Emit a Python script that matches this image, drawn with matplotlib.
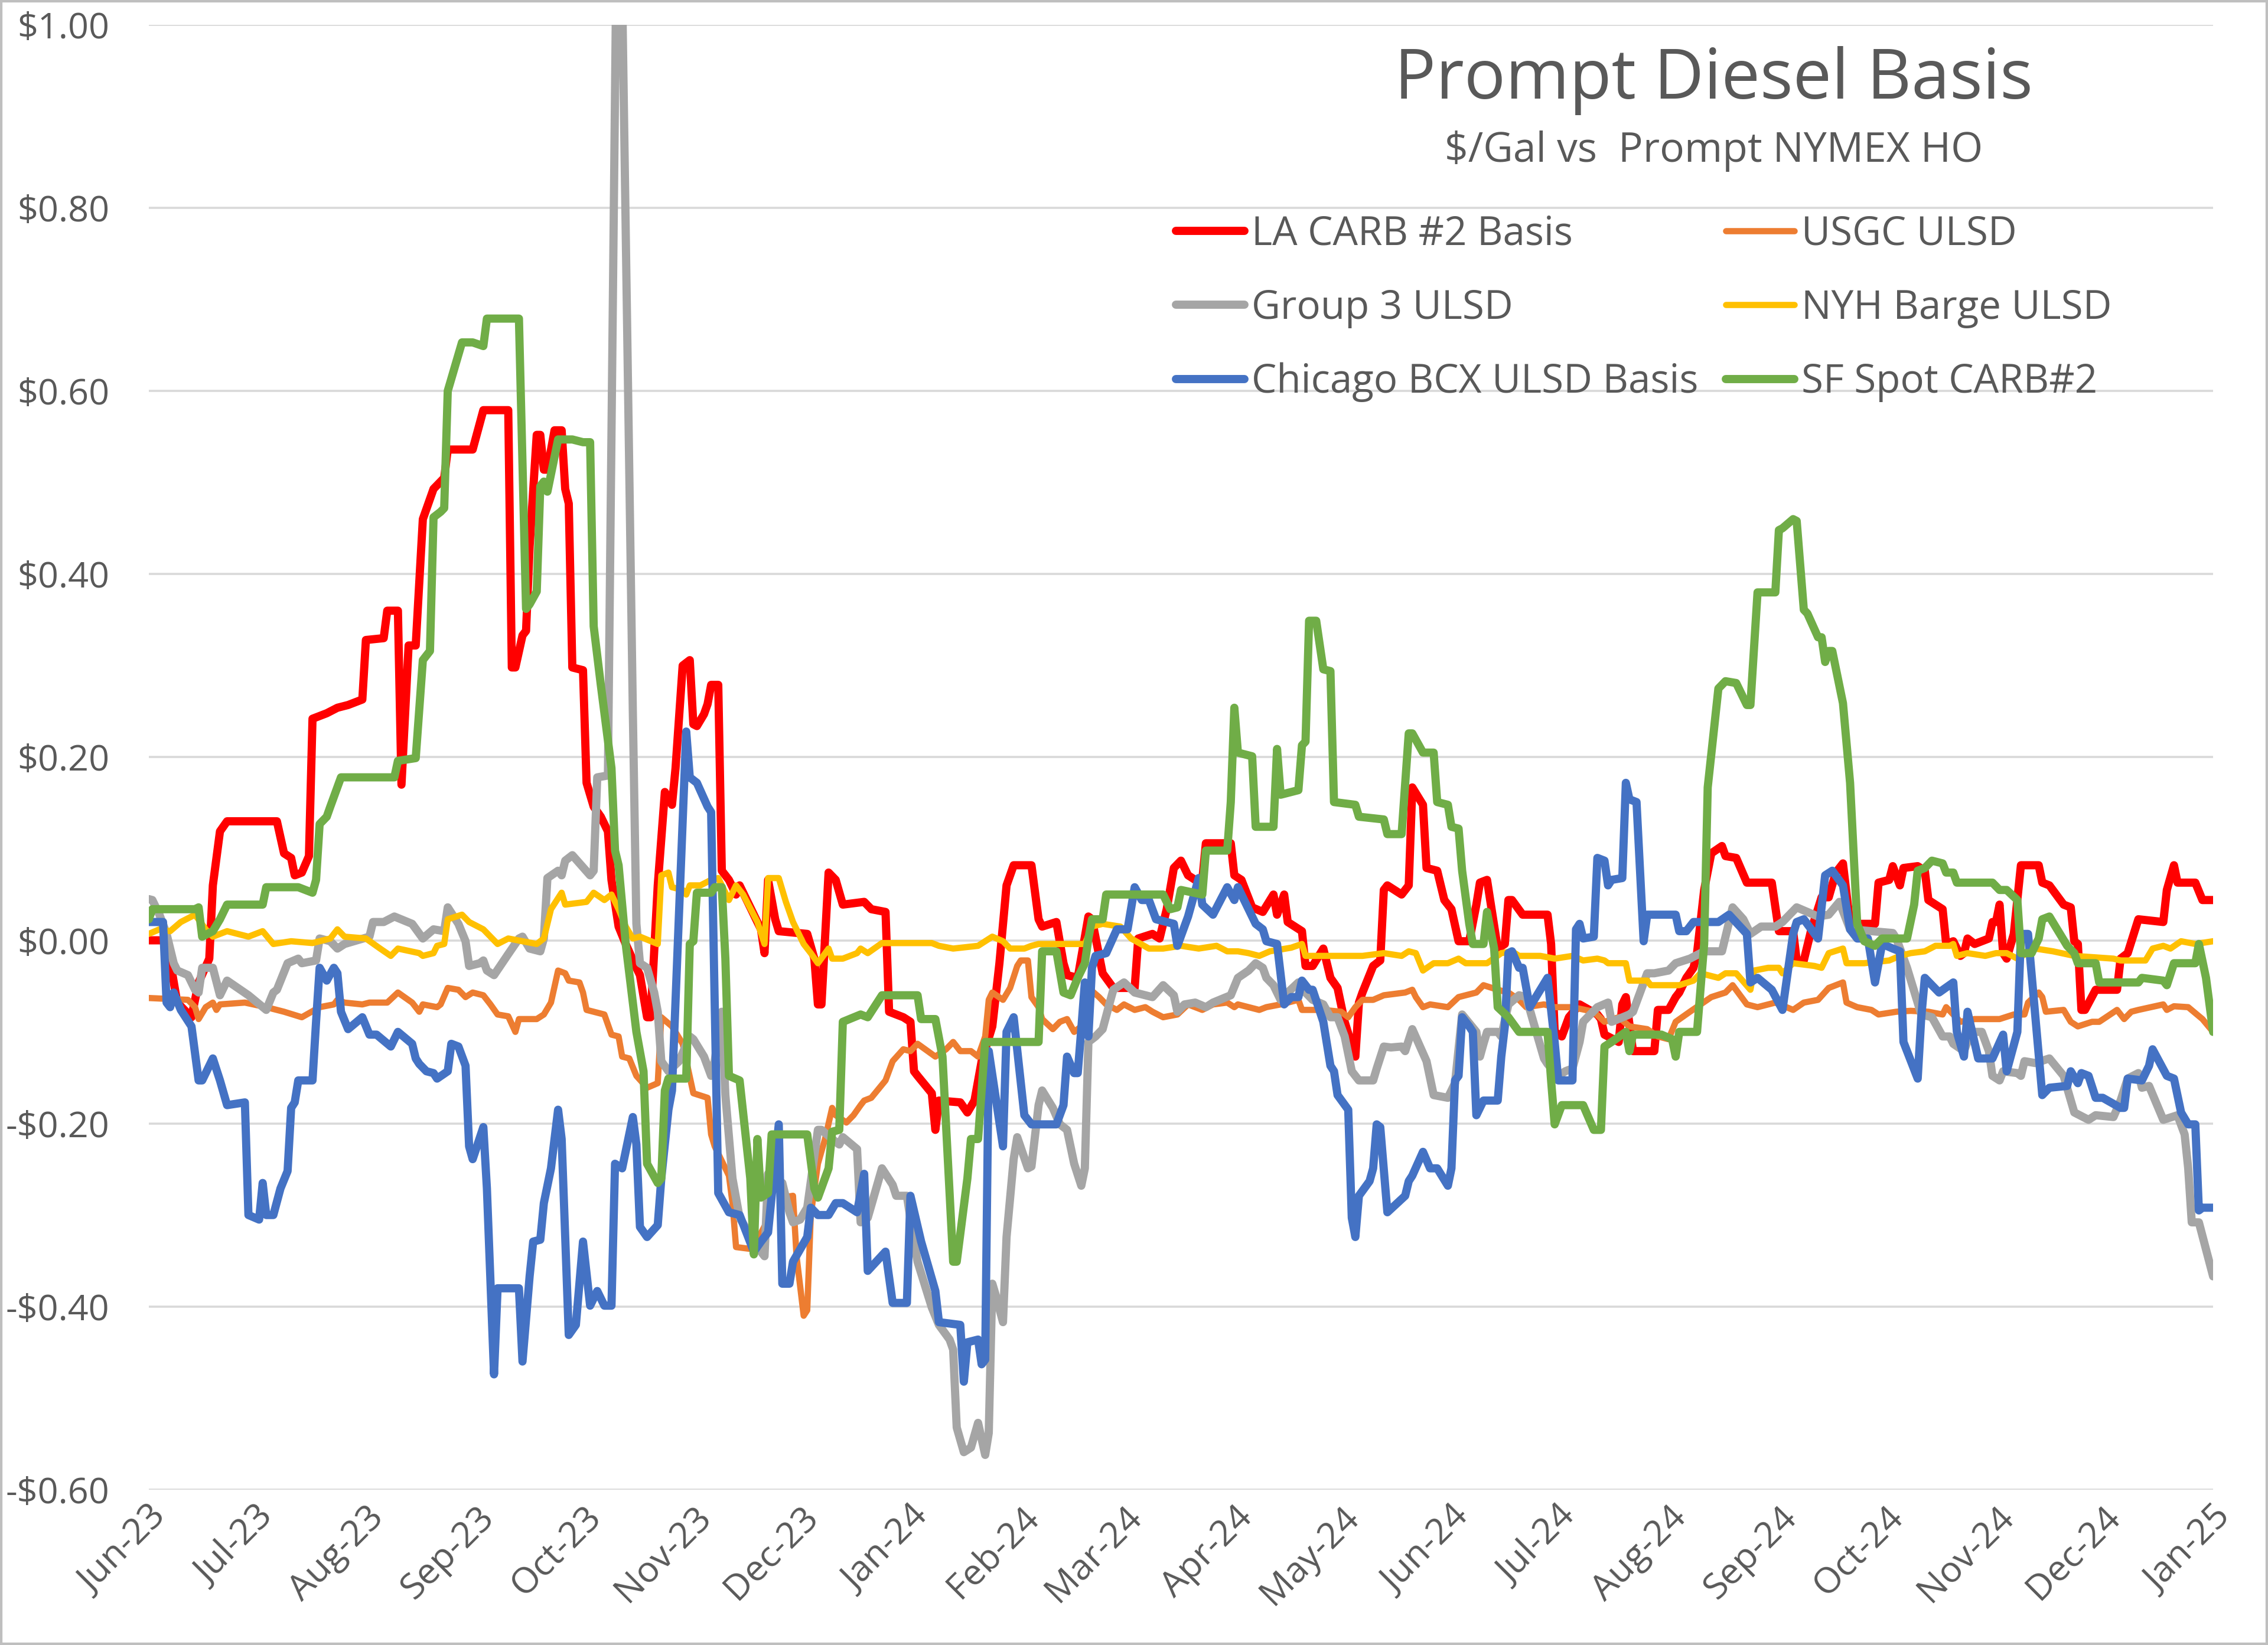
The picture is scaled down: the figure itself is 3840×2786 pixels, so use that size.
import pandas as pd
import matplotlib
matplotlib.use("Agg")
import matplotlib.pyplot as plt
import matplotlib.dates as mdates
from matplotlib.ticker import FuncFormatter
from matplotlib.patches import Rectangle

plt.rcParams['font.family'] = ['Open Sans', 'DejaVu Sans']
plt.rcParams['text.parse_math'] = False

# $/Gal vs prompt NYMEX HO
la_carb = [
    ("2023-06-01", 0.000), ("2023-06-06", 0.000), ("2023-06-09", -0.068), ("2023-06-13", -0.084),
    ("2023-06-15", -0.046), ("2023-06-18", -0.020), ("2023-06-19", 0.060), ("2023-06-21", 0.119),
    ("2023-06-23", 0.130), ("2023-07-07", 0.130), ("2023-07-09", 0.095), ("2023-07-11", 0.090),
    ("2023-07-12", 0.071), ("2023-07-14", 0.074), ("2023-07-16", 0.092), ("2023-07-17", 0.242),
    ("2023-07-21", 0.248), ("2023-07-24", 0.254), ("2023-07-27", 0.257), ("2023-07-31", 0.263),
    ("2023-08-01", 0.328), ("2023-08-06", 0.330), ("2023-08-07", 0.360), ("2023-08-10", 0.360),
    ("2023-08-11", 0.170), ("2023-08-13", 0.322), ("2023-08-15", 0.322), ("2023-08-17", 0.460),
    ("2023-08-20", 0.493), ("2023-08-23", 0.505), ("2023-08-24", 0.536), ("2023-08-31", 0.536),
    ("2023-09-03", 0.579), ("2023-09-10", 0.579), ("2023-09-11", 0.298), ("2023-09-12", 0.298),
    ("2023-09-14", 0.333), ("2023-09-15", 0.338), ("2023-09-16", 0.430), ("2023-09-18", 0.552),
    ("2023-09-19", 0.552), ("2023-09-20", 0.514), ("2023-09-21", 0.514), ("2023-09-23", 0.557),
    ("2023-09-25", 0.557), ("2023-09-26", 0.493), ("2023-09-27", 0.477), ("2023-09-28", 0.298),
    ("2023-10-01", 0.295), ("2023-10-02", 0.172), ("2023-10-04", 0.146), ("2023-10-06", 0.135),
    ("2023-10-08", 0.119), ("2023-10-09", 0.066), ("2023-10-11", 0.015), ("2023-10-13", -0.004),
    ("2023-10-16", -0.030), ("2023-10-17", -0.038), ("2023-10-19", -0.084), ("2023-10-20", -0.084),
    ("2023-10-22", 0.060), ("2023-10-24", 0.162), ("2023-10-26", 0.148), ("2023-10-27", 0.188),
    ("2023-10-29", 0.300), ("2023-10-31", 0.306), ("2023-11-01", 0.236), ("2023-11-02", 0.234),
    ("2023-11-04", 0.247), ("2023-11-05", 0.258), ("2023-11-06", 0.279), ("2023-11-08", 0.279),
    ("2023-11-09", 0.076), ("2023-11-11", 0.066), ("2023-11-13", 0.050), ("2023-11-14", 0.060),
    ("2023-11-20", 0.012), ("2023-11-21", -0.014), ("2023-11-22", 0.066), ("2023-11-24", 0.023),
    ("2023-11-25", 0.010), ("2023-12-03", 0.007), ("2023-12-05", -0.020), ("2023-12-06", -0.070),
    ("2023-12-07", -0.070), ("2023-12-09", 0.074), ("2023-12-11", 0.066), ("2023-12-13", 0.039),
    ("2023-12-19", 0.042), ("2023-12-21", 0.034), ("2023-12-25", 0.031), ("2023-12-26", -0.078),
    ("2023-12-30", -0.084), ("2024-01-01", -0.089), ("2024-01-02", -0.143), ("2024-01-03", -0.148),
    ("2024-01-07", -0.167), ("2024-01-08", -0.207), ("2024-01-09", -0.175), ("2024-01-15", -0.177),
    ("2024-01-17", -0.188), ("2024-01-19", -0.175), ("2024-01-21", -0.132), ("2024-01-24", -0.094),
    ("2024-01-26", -0.025), ("2024-01-28", 0.060), ("2024-01-30", 0.082), ("2024-02-04", 0.082),
    ("2024-02-06", 0.023), ("2024-02-07", 0.015), ("2024-02-11", 0.020), ("2024-02-13", -0.025),
    ("2024-02-14", -0.038), ("2024-02-17", -0.041), ("2024-02-20", 0.026), ("2024-02-21", 0.023),
    ("2024-02-24", -0.036), ("2024-02-27", -0.052), ("2024-03-04", -0.052), ("2024-03-05", 0.002),
    ("2024-03-09", 0.007), ("2024-03-11", 0.002), ("2024-03-13", 0.034), ("2024-03-15", 0.079),
    ("2024-03-17", 0.087), ("2024-03-19", 0.071), ("2024-03-21", 0.066), ("2024-03-23", 0.066),
    ("2024-03-24", 0.106), ("2024-03-31", 0.106), ("2024-04-01", 0.071), ("2024-04-03", 0.066),
    ("2024-04-06", 0.036), ("2024-04-09", 0.031), ("2024-04-12", 0.050), ("2024-04-13", 0.028),
    ("2024-04-15", 0.050), ("2024-04-16", 0.020), ("2024-04-20", 0.010), ("2024-04-21", -0.028),
    ("2024-04-23", -0.028), ("2024-04-26", -0.009), ("2024-04-28", -0.041), ("2024-04-30", -0.052),
    ("2024-05-02", -0.089), ("2024-05-05", -0.127), ("2024-05-06", -0.068), ("2024-05-07", -0.057),
    ("2024-05-10", -0.028), ("2024-05-12", -0.022), ("2024-05-13", 0.055), ("2024-05-14", 0.060),
    ("2024-05-18", 0.050), ("2024-05-20", 0.060), ("2024-05-21", 0.167), ("2024-05-24", 0.148),
    ("2024-05-25", 0.079), ("2024-05-28", 0.076), ("2024-05-30", 0.044), ("2024-06-01", 0.034),
    ("2024-06-03", -0.001), ("2024-06-06", -0.001), ("2024-06-08", 0.039), ("2024-06-09", 0.063),
    ("2024-06-11", 0.066), ("2024-06-14", -0.009), ("2024-06-16", -0.004), ("2024-06-17", 0.044),
    ("2024-06-18", 0.044), ("2024-06-21", 0.028), ("2024-06-28", 0.028), ("2024-06-29", -0.004),
    ("2024-06-30", -0.100), ("2024-07-02", -0.105), ("2024-07-04", -0.084), ("2024-07-07", -0.070),
    ("2024-07-12", -0.081), ("2024-07-13", -0.086), ("2024-07-14", -0.103), ("2024-07-18", -0.111),
    ("2024-07-19", -0.070), ("2024-07-20", -0.062), ("2024-07-22", -0.121), ("2024-07-28", -0.121),
    ("2024-07-29", -0.076), ("2024-08-01", -0.076), ("2024-08-03", -0.062), ("2024-08-04", -0.057),
    ("2024-08-06", -0.041), ("2024-08-08", -0.030), ("2024-08-09", -0.014), ("2024-08-11", 0.055),
    ("2024-08-13", 0.095), ("2024-08-16", 0.103), ("2024-08-17", 0.092), ("2024-08-20", 0.090),
    ("2024-08-23", 0.063), ("2024-08-30", 0.063), ("2024-09-01", 0.010), ("2024-09-05", 0.010),
    ("2024-09-06", -0.022), ("2024-09-08", -0.022), ("2024-09-10", 0.010), ("2024-09-13", 0.047),
    ("2024-09-15", 0.047), ("2024-09-17", 0.074), ("2024-09-19", 0.084), ("2024-09-21", 0.018),
    ("2024-09-28", 0.018), ("2024-09-29", 0.063), ("2024-10-02", 0.066), ("2024-10-03", 0.081),
    ("2024-10-05", 0.060), ("2024-10-06", 0.079), ("2024-10-10", 0.081), ("2024-10-12", 0.076),
    ("2024-10-13", 0.044), ("2024-10-17", 0.034), ("2024-10-18", -0.004), ("2024-10-20", -0.001),
    ("2024-10-22", -0.017), ("2024-10-23", -0.014), ("2024-10-24", 0.002), ("2024-10-26", -0.004),
    ("2024-10-30", 0.002), ("2024-10-31", 0.020), ("2024-11-01", 0.020), ("2024-11-02", 0.039),
    ("2024-11-03", -0.014), ("2024-11-04", -0.020), ("2024-11-06", 0.007), ("2024-11-08", 0.082),
    ("2024-11-13", 0.082), ("2024-11-14", 0.063), ("2024-11-16", 0.060), ("2024-11-20", 0.039),
    ("2024-11-22", 0.036), ("2024-11-23", -0.001), ("2024-11-24", -0.004), ("2024-11-25", -0.076),
    ("2024-11-26", -0.076), ("2024-11-29", -0.054), ("2024-12-05", -0.054), ("2024-12-06", -0.020),
    ("2024-12-08", -0.014), ("2024-12-11", 0.023), ("2024-12-18", 0.020), ("2024-12-19", 0.055),
    ("2024-12-21", 0.082), ("2024-12-22", 0.063), ("2024-12-27", 0.063), ("2024-12-29", 0.044),
    ("2025-01-01", 0.044),
]

usgc = [
    ("2023-06-01", -0.063), ("2023-06-12", -0.065), ("2023-06-14", -0.073), ("2023-06-15", -0.086),
    ("2023-06-17", -0.073), ("2023-06-19", -0.068), ("2023-06-20", -0.076), ("2023-06-21", -0.070),
    ("2023-06-28", -0.068), ("2023-07-04", -0.073), ("2023-07-09", -0.078), ("2023-07-14", -0.084),
    ("2023-07-19", -0.073), ("2023-07-23", -0.070), ("2023-07-24", -0.065), ("2023-07-26", -0.068),
    ("2023-07-31", -0.070), ("2023-08-02", -0.068), ("2023-08-07", -0.068), ("2023-08-10", -0.057),
    ("2023-08-14", -0.068), ("2023-08-16", -0.078), ("2023-08-17", -0.070), ("2023-08-21", -0.073),
    ("2023-08-22", -0.070), ("2023-08-24", -0.052), ("2023-08-27", -0.054), ("2023-08-29", -0.062),
    ("2023-08-31", -0.057), ("2023-09-03", -0.060), ("2023-09-05", -0.070), ("2023-09-07", -0.081),
    ("2023-09-10", -0.083), ("2023-09-12", -0.100), ("2023-09-13", -0.086), ("2023-09-18", -0.086),
    ("2023-09-20", -0.081), ("2023-09-22", -0.068), ("2023-09-24", -0.033), ("2023-09-26", -0.036),
    ("2023-09-27", -0.044), ("2023-09-30", -0.046), ("2023-10-01", -0.057), ("2023-10-02", -0.076),
    ("2023-10-04", -0.078), ("2023-10-07", -0.081), ("2023-10-09", -0.103), ("2023-10-11", -0.105),
    ("2023-10-12", -0.127), ("2023-10-14", -0.129), ("2023-10-16", -0.148), ("2023-10-19", -0.161),
    ("2023-10-22", -0.156), ("2023-10-23", -0.084), ("2023-10-26", -0.094), ("2023-10-29", -0.113),
    ("2023-11-01", -0.167), ("2023-11-05", -0.172), ("2023-11-06", -0.212), ("2023-11-07", -0.225),
    ("2023-11-10", -0.249), ("2023-11-11", -0.257), ("2023-11-12", -0.287), ("2023-11-13", -0.335),
    ("2023-11-17", -0.337), ("2023-11-19", -0.327), ("2023-11-22", -0.305), ("2023-11-24", -0.255),
    ("2023-11-26", -0.281), ("2023-11-29", -0.279), ("2023-11-30", -0.345), ("2023-12-02", -0.410),
    ("2023-12-03", -0.404), ("2023-12-04", -0.300), ("2023-12-06", -0.244), ("2023-12-08", -0.217),
    ("2023-12-10", -0.183), ("2023-12-11", -0.191), ("2023-12-14", -0.199), ("2023-12-16", -0.191),
    ("2023-12-18", -0.180), ("2023-12-19", -0.175), ("2023-12-21", -0.172), ("2023-12-25", -0.153),
    ("2023-12-27", -0.132), ("2023-12-30", -0.119), ("2024-01-01", -0.121), ("2024-01-03", -0.113),
    ("2024-01-08", -0.127), ("2024-01-11", -0.119), ("2024-01-13", -0.111), ("2024-01-15", -0.121),
    ("2024-01-18", -0.121), ("2024-01-20", -0.127), ("2024-01-22", -0.105), ("2024-01-23", -0.065),
    ("2024-01-24", -0.057), ("2024-01-27", -0.065), ("2024-01-29", -0.052), ("2024-01-31", -0.028),
    ("2024-02-01", -0.022), ("2024-02-03", -0.022), ("2024-02-04", -0.062), ("2024-02-06", -0.073),
    ("2024-02-07", -0.086), ("2024-02-10", -0.097), ("2024-02-12", -0.089), ("2024-02-14", -0.086),
    ("2024-02-16", -0.100), ("2024-02-18", -0.094), ("2024-02-20", -0.052), ("2024-02-23", -0.062),
    ("2024-02-25", -0.070), ("2024-02-28", -0.076), ("2024-03-01", -0.070), ("2024-03-04", -0.076),
    ("2024-03-07", -0.073), ("2024-03-09", -0.078), ("2024-03-12", -0.084), ("2024-03-16", -0.081),
    ("2024-03-19", -0.070), ("2024-03-21", -0.073), ("2024-03-23", -0.076), ("2024-03-26", -0.070),
    ("2024-03-30", -0.068), ("2024-04-01", -0.073), ("2024-04-02", -0.070), ("2024-04-08", -0.076),
    ("2024-04-10", -0.073), ("2024-04-14", -0.070), ("2024-04-19", -0.065), ("2024-04-20", -0.076),
    ("2024-04-26", -0.076), ("2024-05-01", -0.078), ("2024-05-03", -0.084), ("2024-05-05", -0.073),
    ("2024-05-07", -0.065), ("2024-05-10", -0.065), ("2024-05-13", -0.060), ("2024-05-19", -0.057),
    ("2024-05-21", -0.054), ("2024-05-22", -0.062), ("2024-05-24", -0.073), ("2024-05-26", -0.070),
    ("2024-05-31", -0.073), ("2024-06-03", -0.062), ("2024-06-08", -0.057), ("2024-06-10", -0.049),
    ("2024-06-14", -0.054), ("2024-06-17", -0.057), ("2024-06-20", -0.065), ("2024-06-22", -0.073),
    ("2024-06-27", -0.070), ("2024-06-30", -0.073), ("2024-07-05", -0.073), ("2024-07-11", -0.078),
    ("2024-07-14", -0.089), ("2024-07-18", -0.084), ("2024-07-21", -0.094), ("2024-07-26", -0.097),
    ("2024-07-29", -0.105), ("2024-08-01", -0.108), ("2024-08-03", -0.089), ("2024-08-07", -0.078),
    ("2024-08-10", -0.070), ("2024-08-13", -0.062), ("2024-08-17", -0.057), ("2024-08-19", -0.049),
    ("2024-08-23", -0.070), ("2024-08-26", -0.073), ("2024-08-31", -0.068), ("2024-09-05", -0.076),
    ("2024-09-08", -0.068), ("2024-09-12", -0.065), ("2024-09-15", -0.052), ("2024-09-19", -0.046),
    ("2024-09-20", -0.068), ("2024-09-23", -0.073), ("2024-09-27", -0.076), ("2024-09-29", -0.081),
    ("2024-10-04", -0.078), ("2024-10-08", -0.077), ("2024-10-13", -0.078), ("2024-10-17", -0.081),
    ("2024-10-18", -0.073), ("2024-10-22", -0.089), ("2024-10-26", -0.086), ("2024-11-02", -0.086),
    ("2024-11-06", -0.081), ("2024-11-09", -0.081), ("2024-11-10", -0.068), ("2024-11-13", -0.057),
    ("2024-11-14", -0.062), ("2024-11-15", -0.078), ("2024-11-20", -0.076), ("2024-11-22", -0.089),
    ("2024-11-24", -0.094), ("2024-11-28", -0.089), ("2024-11-30", -0.089), ("2024-12-05", -0.076),
    ("2024-12-07", -0.086), ("2024-12-09", -0.078), ("2024-12-11", -0.076), ("2024-12-18", -0.070),
    ("2024-12-19", -0.076), ("2024-12-21", -0.072), ("2024-12-25", -0.073), ("2024-12-29", -0.086),
    ("2025-01-01", -0.100),
]

group3 = [
    ("2023-06-01", 0.045), ("2023-06-02", 0.044), ("2023-06-04", 0.028), ("2023-06-06", 0.007),
    ("2023-06-08", -0.025), ("2023-06-09", -0.033), ("2023-06-12", -0.038), ("2023-06-14", -0.054),
    ("2023-06-15", -0.057), ("2023-06-16", -0.030), ("2023-06-19", -0.030), ("2023-06-21", -0.060),
    ("2023-06-23", -0.044), ("2023-06-29", -0.060), ("2023-07-04", -0.076), ("2023-07-06", -0.057),
    ("2023-07-07", -0.054), ("2023-07-10", -0.025), ("2023-07-13", -0.020), ("2023-07-14", -0.025),
    ("2023-07-18", -0.022), ("2023-07-19", 0.002), ("2023-07-22", -0.001), ("2023-07-24", -0.009),
    ("2023-07-26", -0.004), ("2023-08-02", 0.004), ("2023-08-03", 0.020), ("2023-08-06", 0.020),
    ("2023-08-09", 0.026), ("2023-08-14", 0.018), ("2023-08-17", 0.002), ("2023-08-20", 0.012),
    ("2023-08-23", 0.010), ("2023-08-24", 0.036), ("2023-08-27", 0.018), ("2023-08-29", -0.001),
    ("2023-08-30", -0.028), ("2023-09-02", -0.025), ("2023-09-03", -0.022), ("2023-09-04", -0.033),
    ("2023-09-06", -0.038), ("2023-09-10", -0.015), ("2023-09-13", 0.002), ("2023-09-14", 0.004),
    ("2023-09-16", -0.009), ("2023-09-19", -0.012), ("2023-09-20", 0.002), ("2023-09-21", 0.068),
    ("2023-09-24", 0.076), ("2023-09-25", 0.071), ("2023-09-26", 0.087), ("2023-09-28", 0.093),
    ("2023-10-03", 0.071), ("2023-10-04", 0.076), ("2023-10-05", 0.178), ("2023-10-08", 0.180),
    ("2023-10-11", 1.300), ("2023-10-15", 0.250), ("2023-10-16", 0.018),
    ("2023-10-17", -0.025), ("2023-10-19", -0.030), ("2023-10-21", -0.057), ("2023-10-22", -0.078),
    ("2023-10-23", -0.132), ("2023-10-25", -0.143), ("2023-10-28", -0.132), ("2023-10-31", -0.105),
    ("2023-11-01", -0.108), ("2023-11-04", -0.127), ("2023-11-06", -0.148), ("2023-11-07", -0.132),
    ("2023-11-09", -0.078), ("2023-11-10", -0.169), ("2023-11-12", -0.260), ("2023-11-14", -0.303),
    ("2023-11-19", -0.335), ("2023-11-21", -0.345), ("2023-11-22", -0.255), ("2023-11-26", -0.265),
    ("2023-11-28", -0.297), ("2023-11-29", -0.308), ("2023-12-01", -0.305), ("2023-12-03", -0.292),
    ("2023-12-06", -0.207), ("2023-12-07", -0.207), ("2023-12-10", -0.217), ("2023-12-12", -0.223),
    ("2023-12-13", -0.215), ("2023-12-17", -0.228), ("2023-12-18", -0.308), ("2023-12-20", -0.303),
    ("2023-12-24", -0.249), ("2023-12-27", -0.267), ("2023-12-28", -0.279), ("2023-12-31", -0.279),
    ("2024-01-02", -0.329), ("2024-01-03", -0.351), ("2024-01-07", -0.401), ("2024-01-09", -0.420),
    ("2024-01-12", -0.436), ("2024-01-13", -0.447), ("2024-01-14", -0.532), ("2024-01-16", -0.559),
    ("2024-01-18", -0.554), ("2024-01-20", -0.527), ("2024-01-22", -0.562), ("2024-01-23", -0.538),
    ("2024-01-24", -0.375), ("2024-01-25", -0.388), ("2024-01-27", -0.417), ("2024-01-28", -0.324),
    ("2024-01-30", -0.239), ("2024-01-31", -0.215), ("2024-02-03", -0.249), ("2024-02-04", -0.247),
    ("2024-02-06", -0.180), ("2024-02-07", -0.164), ("2024-02-10", -0.183), ("2024-02-12", -0.201),
    ("2024-02-14", -0.207), ("2024-02-16", -0.244), ("2024-02-18", -0.268), ("2024-02-19", -0.249),
    ("2024-02-20", -0.111), ("2024-02-22", -0.105), ("2024-02-24", -0.097), ("2024-02-26", -0.068),
    ("2024-02-27", -0.054), ("2024-03-01", -0.046), ("2024-03-04", -0.057), ("2024-03-09", -0.062),
    ("2024-03-12", -0.049), ("2024-03-15", -0.060), ("2024-03-16", -0.078), ("2024-03-18", -0.070),
    ("2024-03-21", -0.068), ("2024-03-24", -0.073), ("2024-03-26", -0.068), ("2024-03-31", -0.060),
    ("2024-04-02", -0.041), ("2024-04-05", -0.033), ("2024-04-07", -0.025), ("2024-04-09", -0.030),
    ("2024-04-10", -0.041), ("2024-04-12", -0.049), ("2024-04-14", -0.065), ("2024-04-16", -0.057),
    ("2024-04-19", -0.046), ("2024-04-21", -0.057), ("2024-04-23", -0.065), ("2024-04-26", -0.070),
    ("2024-04-28", -0.084), ("2024-04-30", -0.084), ("2024-05-02", -0.105), ("2024-05-04", -0.143),
    ("2024-05-06", -0.153), ("2024-05-10", -0.153), ("2024-05-11", -0.140), ("2024-05-13", -0.116),
    ("2024-05-15", -0.117), ("2024-05-18", -0.116), ("2024-05-19", -0.121), ("2024-05-21", -0.097),
    ("2024-05-25", -0.132), ("2024-05-27", -0.169), ("2024-05-31", -0.172), ("2024-06-02", -0.156),
    ("2024-06-04", -0.081), ("2024-06-08", -0.100), ("2024-06-09", -0.127), ("2024-06-10", -0.113),
    ("2024-06-11", -0.100), ("2024-06-14", -0.100), ("2024-06-15", -0.105), ("2024-06-17", -0.070),
    ("2024-06-20", -0.060), ("2024-06-22", -0.062), ("2024-06-24", -0.089), ("2024-06-27", -0.129),
    ("2024-06-28", -0.135), ("2024-07-01", -0.148), ("2024-07-03", -0.143), ("2024-07-05", -0.140),
    ("2024-07-07", -0.111), ("2024-07-08", -0.089), ("2024-07-12", -0.073), ("2024-07-15", -0.068),
    ("2024-07-16", -0.089), ("2024-07-21", -0.081), ("2024-07-22", -0.078), ("2024-07-26", -0.036),
    ("2024-07-28", -0.036), ("2024-08-01", -0.033), ("2024-08-03", -0.025), ("2024-08-07", -0.020),
    ("2024-08-11", -0.012), ("2024-08-16", -0.012), ("2024-08-19", 0.036), ("2024-08-22", 0.023),
    ("2024-08-24", 0.007), ("2024-08-27", 0.015), ("2024-08-31", 0.015), ("2024-09-02", 0.020),
    ("2024-09-04", 0.028), ("2024-09-06", 0.036), ("2024-09-09", 0.031), ("2024-09-12", 0.026),
    ("2024-09-15", 0.028), ("2024-09-18", 0.042), ("2024-09-21", 0.012), ("2024-09-27", 0.010),
    ("2024-10-03", 0.008), ("2024-10-04", 0.002), ("2024-10-07", -0.030), ("2024-10-11", -0.081),
    ("2024-10-14", -0.084), ("2024-10-17", -0.105), ("2024-10-19", -0.105), ("2024-10-20", -0.113),
    ("2024-10-23", -0.121), ("2024-10-25", -0.100), ("2024-10-28", -0.100), ("2024-10-30", -0.121),
    ("2024-10-31", -0.148), ("2024-11-02", -0.153), ("2024-11-03", -0.143), ("2024-11-07", -0.145),
    ("2024-11-08", -0.148), ("2024-11-09", -0.132), ("2024-11-12", -0.134), ("2024-11-16", -0.129),
    ("2024-11-20", -0.148), ("2024-11-23", -0.188), ("2024-11-27", -0.196), ("2024-11-29", -0.191),
    ("2024-12-04", -0.193), ("2024-12-06", -0.175), ("2024-12-08", -0.151), ("2024-12-11", -0.145),
    ("2024-12-12", -0.161), ("2024-12-14", -0.159), ("2024-12-18", -0.196), ("2024-12-22", -0.191),
    ("2024-12-24", -0.212), ("2024-12-25", -0.249), ("2024-12-26", -0.308), ("2024-12-28", -0.308),
    ("2025-01-01", -0.367),
]

nyh = [
    ("2023-06-01", 0.007), ("2023-06-04", 0.012), ("2023-06-07", 0.010), ("2023-06-10", 0.020),
    ("2023-06-14", 0.028), ("2023-06-17", 0.012), ("2023-06-19", 0.004), ("2023-06-23", 0.010),
    ("2023-06-29", 0.004), ("2023-07-03", 0.010), ("2023-07-06", -0.004), ("2023-07-11", -0.001),
    ("2023-07-17", -0.003), ("2023-07-22", 0.002), ("2023-07-24", 0.012), ("2023-07-26", 0.004),
    ("2023-08-01", 0.002), ("2023-08-05", -0.009), ("2023-08-08", -0.017), ("2023-08-10", -0.009),
    ("2023-08-16", -0.014), ("2023-08-17", -0.017), ("2023-08-20", -0.014), ("2023-08-21", -0.006),
    ("2023-08-23", -0.004), ("2023-08-24", 0.023), ("2023-08-28", 0.028), ("2023-08-30", 0.020),
    ("2023-09-03", 0.012), ("2023-09-07", -0.004), ("2023-09-10", 0.002), ("2023-09-18", -0.004),
    ("2023-09-20", 0.002), ("2023-09-22", 0.034), ("2023-09-25", 0.052), ("2023-09-26", 0.039),
    ("2023-10-02", 0.042), ("2023-10-04", 0.052), ("2023-10-07", 0.044), ("2023-10-09", 0.050),
    ("2023-10-11", 0.034), ("2023-10-13", 0.015), ("2023-10-15", 0.002), ("2023-10-17", 0.004),
    ("2023-10-22", -0.004), ("2023-10-23", 0.071), ("2023-10-25", 0.074), ("2023-10-26", 0.058),
    ("2023-10-29", 0.055), ("2023-10-30", 0.050), ("2023-10-31", 0.060), ("2023-11-03", 0.060),
    ("2023-11-06", 0.066), ("2023-11-08", 0.068), ("2023-11-11", 0.044), ("2023-11-13", 0.060),
    ("2023-11-15", 0.050), ("2023-11-19", 0.020), ("2023-11-21", -0.004), ("2023-11-22", 0.068),
    ("2023-11-25", 0.068), ("2023-11-27", 0.042), ("2023-11-29", 0.020), ("2023-12-02", -0.004),
    ("2023-12-04", -0.014), ("2023-12-06", -0.025), ("2023-12-09", -0.009), ("2023-12-10", -0.020),
    ("2023-12-13", -0.020), ("2023-12-17", -0.014), ("2023-12-18", -0.009), ("2023-12-20", -0.014),
    ("2023-12-24", -0.003), ("2024-01-07", -0.003), ("2024-01-09", -0.006), ("2024-01-13", -0.009),
    ("2024-01-20", -0.006), ("2024-01-24", 0.004), ("2024-01-27", -0.001), ("2024-01-29", -0.009),
    ("2024-02-02", -0.009), ("2024-02-04", -0.006), ("2024-02-06", -0.004), ("2024-02-19", -0.004),
    ("2024-02-21", 0.015), ("2024-02-24", 0.018), ("2024-02-29", 0.015), ("2024-03-03", 0.002),
    ("2024-03-08", -0.009), ("2024-03-12", -0.009), ("2024-03-17", -0.006), ("2024-03-22", -0.009),
    ("2024-03-27", -0.006), ("2024-03-30", -0.012), ("2024-04-02", -0.012), ("2024-04-05", -0.014),
    ("2024-04-08", -0.017), ("2024-04-11", -0.012), ("2024-04-17", -0.008), ("2024-04-20", -0.004),
    ("2024-04-21", -0.017), ("2024-05-07", -0.017), ("2024-05-13", -0.014), ("2024-05-18", -0.017),
    ("2024-05-20", -0.012), ("2024-05-22", -0.014), ("2024-05-24", -0.033), ("2024-05-27", -0.025),
    ("2024-05-31", -0.025), ("2024-06-03", -0.020), ("2024-06-05", -0.025), ("2024-06-11", -0.025),
    ("2024-06-15", -0.014), ("2024-06-18", -0.012), ("2024-06-20", -0.017), ("2024-06-26", -0.017),
    ("2024-06-30", -0.020), ("2024-07-05", -0.017), ("2024-07-08", -0.022), ("2024-07-12", -0.020),
    ("2024-07-14", -0.022), ("2024-07-15", -0.025), ("2024-07-20", -0.025), ("2024-07-21", -0.044),
    ("2024-07-26", -0.044), ("2024-07-27", -0.049), ("2024-08-04", -0.049), ("2024-08-08", -0.044),
    ("2024-08-10", -0.036), ("2024-08-15", -0.041), ("2024-08-17", -0.036), ("2024-08-20", -0.036),
    ("2024-08-24", -0.054), ("2024-08-25", -0.033), ("2024-08-29", -0.030), ("2024-09-01", -0.030),
    ("2024-09-02", -0.036), ("2024-09-05", -0.025), ("2024-09-11", -0.028), ("2024-09-13", -0.030),
    ("2024-09-15", -0.014), ("2024-09-19", -0.009), ("2024-09-20", -0.025), ("2024-09-25", -0.025),
    ("2024-10-02", -0.022), ("2024-10-05", -0.017), ("2024-10-08", -0.014), ("2024-10-12", -0.012),
    ("2024-10-15", -0.006), ("2024-10-19", -0.006), ("2024-10-20", -0.004), ("2024-10-21", -0.017),
    ("2024-10-24", -0.014), ("2024-10-29", -0.017), ("2024-11-01", -0.014), ("2024-11-04", -0.014),
    ("2024-11-07", -0.020), ("2024-11-12", -0.009), ("2024-11-17", -0.012), ("2024-11-23", -0.017),
    ("2024-12-04", -0.020), ("2024-12-06", -0.022), ("2024-12-13", -0.022), ("2024-12-15", -0.009),
    ("2024-12-18", -0.006), ("2024-12-20", -0.009), ("2024-12-23", -0.001), ("2024-12-27", -0.004),
    ("2025-01-01", -0.001),
]

chicago = [
    ("2023-06-01", 0.020), ("2023-06-05", 0.020), ("2023-06-06", -0.068), ("2023-06-07", -0.073),
    ("2023-06-08", -0.057), ("2023-06-10", -0.076), ("2023-06-13", -0.094), ("2023-06-15", -0.153),
    ("2023-06-16", -0.153), ("2023-06-19", -0.129), ("2023-06-21", -0.153), ("2023-06-23", -0.180),
    ("2023-06-28", -0.177), ("2023-06-29", -0.300), ("2023-07-02", -0.305), ("2023-07-03", -0.265),
    ("2023-07-04", -0.300), ("2023-07-06", -0.300), ("2023-07-08", -0.271), ("2023-07-10", -0.252),
    ("2023-07-11", -0.183), ("2023-07-12", -0.177), ("2023-07-13", -0.153), ("2023-07-17", -0.153),
    ("2023-07-18", -0.089), ("2023-07-19", -0.030), ("2023-07-21", -0.044), ("2023-07-23", -0.030),
    ("2023-07-24", -0.036), ("2023-07-25", -0.078), ("2023-07-27", -0.097), ("2023-07-31", -0.084),
    ("2023-08-02", -0.103), ("2023-08-04", -0.103), ("2023-08-08", -0.116), ("2023-08-10", -0.100),
    ("2023-08-14", -0.113), ("2023-08-15", -0.129), ("2023-08-16", -0.135), ("2023-08-18", -0.143),
    ("2023-08-20", -0.145), ("2023-08-21", -0.151), ("2023-08-24", -0.143), ("2023-08-25", -0.113),
    ("2023-08-27", -0.116), ("2023-08-29", -0.137), ("2023-08-30", -0.225), ("2023-08-31", -0.239),
    ("2023-09-03", -0.204), ("2023-09-04", -0.271), ("2023-09-06", -0.474), ("2023-09-07", -0.380),
    ("2023-09-13", -0.380), ("2023-09-14", -0.460), ("2023-09-16", -0.367), ("2023-09-17", -0.329),
    ("2023-09-19", -0.327), ("2023-09-20", -0.287), ("2023-09-22", -0.249), ("2023-09-24", -0.185),
    ("2023-09-25", -0.217), ("2023-09-27", -0.431), ("2023-09-29", -0.420), ("2023-10-01", -0.329),
    ("2023-10-03", -0.399), ("2023-10-05", -0.383), ("2023-10-07", -0.399), ("2023-10-09", -0.399),
    ("2023-10-10", -0.244), ("2023-10-12", -0.249), ("2023-10-15", -0.193), ("2023-10-16", -0.223),
    ("2023-10-17", -0.313), ("2023-10-19", -0.324), ("2023-10-22", -0.311), ("2023-10-23", -0.260),
    ("2023-10-25", -0.185), ("2023-10-26", -0.164), ("2023-10-30", 0.228), ("2023-10-31", 0.178),
    ("2023-11-02", 0.172), ("2023-11-05", 0.146), ("2023-11-06", 0.140), ("2023-11-08", -0.276),
    ("2023-11-11", -0.297), ("2023-11-14", -0.300), ("2023-11-18", -0.340), ("2023-11-20", -0.329),
    ("2023-11-22", -0.319), ("2023-11-25", -0.201), ("2023-11-26", -0.375), ("2023-11-28", -0.375),
    ("2023-11-29", -0.351), ("2023-12-03", -0.324), ("2023-12-04", -0.292), ("2023-12-06", -0.300),
    ("2023-12-09", -0.300), ("2023-12-11", -0.287), ("2023-12-13", -0.287), ("2023-12-17", -0.297),
    ("2023-12-19", -0.255), ("2023-12-20", -0.361), ("2023-12-25", -0.340), ("2023-12-27", -0.396),
    ("2023-12-31", -0.396), ("2024-01-01", -0.279), ("2024-01-04", -0.329), ("2024-01-08", -0.383),
    ("2024-01-09", -0.417), ("2024-01-15", -0.420), ("2024-01-16", -0.482), ("2024-01-17", -0.439),
    ("2024-01-20", -0.436), ("2024-01-21", -0.463), ("2024-01-22", -0.458), ("2024-01-23", -0.121),
    ("2024-01-27", -0.225), ("2024-01-28", -0.100), ("2024-01-30", -0.084), ("2024-02-02", -0.191),
    ("2024-02-04", -0.201), ("2024-02-11", -0.201), ("2024-02-13", -0.180), ("2024-02-14", -0.127),
    ("2024-02-16", -0.145), ("2024-02-17", -0.145), ("2024-02-18", -0.097), ("2024-02-19", -0.046),
    ("2024-02-20", -0.105), ("2024-02-21", -0.030), ("2024-02-22", -0.017), ("2024-02-25", -0.014),
    ("2024-02-28", 0.012), ("2024-03-02", 0.012), ("2024-03-04", 0.058), ("2024-03-06", 0.044),
    ("2024-03-08", 0.044), ("2024-03-10", 0.023), ("2024-03-15", 0.018), ("2024-03-16", -0.006),
    ("2024-03-19", 0.026), ("2024-03-22", 0.068), ("2024-03-23", 0.039), ("2024-03-26", 0.028),
    ("2024-03-30", 0.058), ("2024-04-01", 0.044), ("2024-04-02", 0.058), ("2024-04-07", 0.018),
    ("2024-04-09", 0.012), ("2024-04-10", -0.001), ("2024-04-13", -0.004), ("2024-04-15", -0.070),
    ("2024-04-17", -0.062), ("2024-04-19", -0.062), ("2024-04-20", -0.044), ("2024-04-22", -0.054),
    ("2024-04-23", -0.054), ("2024-04-26", -0.089), ("2024-04-28", -0.137), ("2024-04-29", -0.143),
    ("2024-04-30", -0.169), ("2024-05-03", -0.185), ("2024-05-04", -0.303), ("2024-05-05", -0.324),
    ("2024-05-06", -0.279), ("2024-05-09", -0.263), ("2024-05-10", -0.249), ("2024-05-11", -0.201),
    ("2024-05-12", -0.204), ("2024-05-14", -0.297), ("2024-05-19", -0.279), ("2024-05-20", -0.263),
    ("2024-05-21", -0.257), ("2024-05-24", -0.231), ("2024-05-26", -0.249), ("2024-05-28", -0.249),
    ("2024-05-31", -0.268), ("2024-06-01", -0.249), ("2024-06-02", -0.153), ("2024-06-03", -0.148),
    ("2024-06-04", -0.084), ("2024-06-06", -0.094), ("2024-06-07", -0.100), ("2024-06-08", -0.191),
    ("2024-06-10", -0.175), ("2024-06-14", -0.175), ("2024-06-15", -0.127), ("2024-06-16", -0.094),
    ("2024-06-17", -0.014), ("2024-06-18", -0.012), ("2024-06-20", -0.030), ("2024-06-21", -0.030),
    ("2024-06-23", -0.073), ("2024-06-28", -0.041), ("2024-06-30", -0.111), ("2024-07-01", -0.153),
    ("2024-07-05", -0.153), ("2024-07-06", 0.012), ("2024-07-07", 0.018), ("2024-07-08", 0.002),
    ("2024-07-11", 0.004), ("2024-07-12", 0.090), ("2024-07-14", 0.087), ("2024-07-15", 0.060),
    ("2024-07-16", 0.066), ("2024-07-19", 0.068), ("2024-07-20", 0.172), ("2024-07-21", 0.154),
    ("2024-07-23", 0.151), ("2024-07-25", -0.001), ("2024-07-26", 0.028), ("2024-08-03", 0.028),
    ("2024-08-04", 0.010), ("2024-08-06", 0.010), ("2024-08-08", 0.020), ("2024-08-15", 0.020),
    ("2024-08-18", 0.028), ("2024-08-23", 0.007), ("2024-08-24", -0.046), ("2024-08-26", -0.041),
    ("2024-08-30", -0.054), ("2024-09-02", -0.076), ("2024-09-05", 0.007), ("2024-09-06", 0.020),
    ("2024-09-08", 0.023), ("2024-09-12", 0.002), ("2024-09-14", 0.071), ("2024-09-16", 0.076),
    ("2024-09-19", 0.060), ("2024-09-21", 0.012), ("2024-09-23", 0.002), ("2024-09-26", 0.002),
    ("2024-09-28", -0.046), ("2024-09-30", -0.004), ("2024-10-03", -0.009), ("2024-10-05", -0.012),
    ("2024-10-06", -0.111), ("2024-10-10", -0.151), ("2024-10-11", -0.084), ("2024-10-12", -0.041),
    ("2024-10-16", -0.057), ("2024-10-20", -0.046), ("2024-10-21", -0.100), ("2024-10-23", -0.127),
    ("2024-10-24", -0.078), ("2024-10-27", -0.129), ("2024-10-31", -0.129), ("2024-11-03", -0.103),
    ("2024-11-04", -0.143), ("2024-11-07", -0.100), ("2024-11-08", 0.007), ("2024-11-10", 0.007),
    ("2024-11-14", -0.169), ("2024-11-16", -0.161), ("2024-11-21", -0.159), ("2024-11-22", -0.143),
    ("2024-11-24", -0.156), ("2024-11-25", -0.145), ("2024-11-27", -0.148), ("2024-11-29", -0.172),
    ("2024-12-01", -0.172), ("2024-12-06", -0.183), ("2024-12-07", -0.183), ("2024-12-08", -0.151),
    ("2024-12-12", -0.153), ("2024-12-14", -0.137), ("2024-12-15", -0.119), ("2024-12-19", -0.148),
    ("2024-12-21", -0.151), ("2024-12-23", -0.188), ("2024-12-25", -0.201), ("2024-12-27", -0.201),
    ("2024-12-28", -0.295), ("2024-12-29", -0.292), ("2025-01-01", -0.292),
]

sf_spot = [
    ("2023-06-01", 0.023), ("2023-06-02", 0.034), ("2023-06-14", 0.034), ("2023-06-15", 0.036),
    ("2023-06-16", 0.004), ("2023-06-19", 0.010), ("2023-06-21", 0.023), ("2023-06-23", 0.039),
    ("2023-07-03", 0.039), ("2023-07-04", 0.058), ("2023-07-13", 0.058), ("2023-07-17", 0.052),
    ("2023-07-18", 0.066), ("2023-07-19", 0.127), ("2023-07-21", 0.135), ("2023-07-22", 0.146),
    ("2023-07-25", 0.178), ("2023-08-09", 0.178), ("2023-08-10", 0.196), ("2023-08-15", 0.199),
    ("2023-08-17", 0.306), ("2023-08-19", 0.316), ("2023-08-20", 0.462), ("2023-08-22", 0.468),
    ("2023-08-23", 0.472), ("2023-08-24", 0.600), ("2023-08-28", 0.653), ("2023-08-31", 0.653),
    ("2023-09-03", 0.649), ("2023-09-04", 0.679), ("2023-09-13", 0.679), ("2023-09-15", 0.362),
    ("2023-09-16", 0.367), ("2023-09-18", 0.381), ("2023-09-19", 0.496), ("2023-09-20", 0.501),
    ("2023-09-21", 0.490), ("2023-09-24", 0.547), ("2023-09-28", 0.547), ("2023-10-01", 0.544),
    ("2023-10-03", 0.544), ("2023-10-04", 0.343), ("2023-10-06", 0.279), ("2023-10-09", 0.188),
    ("2023-10-10", 0.098), ("2023-10-11", 0.082), ("2023-10-13", -0.004), ("2023-10-16", -0.100),
    ("2023-10-18", -0.143), ("2023-10-19", -0.244), ("2023-10-22", -0.265), ("2023-10-23", -0.260),
    ("2023-10-24", -0.164), ("2023-10-25", -0.151), ("2023-10-30", -0.151), ("2023-10-31", -0.004),
    ("2023-11-01", -0.001), ("2023-11-02", 0.052), ("2023-11-06", 0.052), ("2023-11-07", 0.058),
    ("2023-11-09", 0.058), ("2023-11-10", -0.020), ("2023-11-11", -0.148), ("2023-11-14", -0.153),
    ("2023-11-17", -0.260), ("2023-11-18", -0.343), ("2023-11-19", -0.217), ("2023-11-20", -0.281),
    ("2023-11-22", -0.276), ("2023-11-23", -0.212), ("2023-12-03", -0.212), ("2023-12-05", -0.271),
    ("2023-12-06", -0.281), ("2023-12-09", -0.249), ("2023-12-10", -0.209), ("2023-12-12", -0.207),
    ("2023-12-13", -0.089), ("2023-12-18", -0.081), ("2023-12-20", -0.084), ("2023-12-24", -0.060),
    ("2024-01-03", -0.060), ("2024-01-04", -0.086), ("2024-01-08", -0.086), ("2024-01-10", -0.127),
    ("2024-01-13", -0.351), ("2024-01-14", -0.351), ("2024-01-17", -0.260), ("2024-01-18", -0.217),
    ("2024-01-20", -0.217), ("2024-01-22", -0.111), ("2024-02-06", -0.111), ("2024-02-07", -0.012),
    ("2024-02-11", -0.012), ("2024-02-13", -0.057), ("2024-02-15", -0.060), ("2024-02-17", -0.041),
    ("2024-02-19", -0.025), ("2024-02-20", 0.002), ("2024-02-21", 0.023), ("2024-02-24", 0.023),
    ("2024-02-25", 0.050), ("2024-03-12", 0.050), ("2024-03-14", 0.034), ("2024-03-16", 0.036),
    ("2024-03-17", 0.055), ("2024-03-23", 0.050), ("2024-03-24", 0.098), ("2024-03-30", 0.098),
    ("2024-03-31", 0.151), ("2024-04-01", 0.254), ("2024-04-02", 0.205), ("2024-04-06", 0.201),
    ("2024-04-07", 0.124), ("2024-04-12", 0.124), ("2024-04-13", 0.209), ("2024-04-14", 0.159),
    ("2024-04-19", 0.164), ("2024-04-20", 0.213), ("2024-04-21", 0.217), ("2024-04-22", 0.349),
    ("2024-04-24", 0.349), ("2024-04-26", 0.296), ("2024-04-28", 0.294), ("2024-04-29", 0.151),
    ("2024-05-05", 0.148), ("2024-05-06", 0.135), ("2024-05-13", 0.132), ("2024-05-14", 0.116),
    ("2024-05-18", 0.116), ("2024-05-20", 0.226), ("2024-05-21", 0.226), ("2024-05-24", 0.205),
    ("2024-05-27", 0.205), ("2024-05-28", 0.151), ("2024-05-31", 0.148), ("2024-06-01", 0.124),
    ("2024-06-03", 0.122), ("2024-06-04", 0.076), ("2024-06-06", 0.018), ("2024-06-07", -0.004),
    ("2024-06-10", -0.004), ("2024-06-11", 0.031), ("2024-06-13", -0.009), ("2024-06-14", -0.073),
    ("2024-06-17", -0.084), ("2024-06-20", -0.100), ("2024-06-28", -0.100), ("2024-06-29", -0.153),
    ("2024-06-30", -0.201), ("2024-07-02", -0.180), ("2024-07-08", -0.180), ("2024-07-11", -0.207),
    ("2024-07-13", -0.207), ("2024-07-14", -0.116), ("2024-07-16", -0.111), ("2024-07-20", -0.100),
    ("2024-07-21", -0.121), ("2024-07-22", -0.103), ("2024-07-30", -0.103), ("2024-08-02", -0.108),
    ("2024-08-03", -0.127), ("2024-08-04", -0.100), ("2024-08-09", -0.100), ("2024-08-11", -0.004),
    ("2024-08-12", 0.167), ("2024-08-15", 0.275), ("2024-08-17", 0.283), ("2024-08-20", 0.281),
    ("2024-08-23", 0.257), ("2024-08-24", 0.257), ("2024-08-26", 0.380), ("2024-08-31", 0.380),
    ("2024-09-01", 0.448), ("2024-09-02", 0.450), ("2024-09-05", 0.460), ("2024-09-06", 0.458),
    ("2024-09-08", 0.361), ("2024-09-09", 0.357), ("2024-09-12", 0.331), ("2024-09-13", 0.331),
    ("2024-09-14", 0.304), ("2024-09-15", 0.316), ("2024-09-16", 0.316), ("2024-09-19", 0.259),
    ("2024-09-21", 0.172), ("2024-09-23", 0.018), ("2024-09-25", -0.001), ("2024-09-28", -0.006),
    ("2024-09-30", 0.002), ("2024-10-07", 0.002), ("2024-10-09", 0.039), ("2024-10-10", 0.076),
    ("2024-10-12", 0.079), ("2024-10-14", 0.087), ("2024-10-17", 0.084), ("2024-10-18", 0.074),
    ("2024-10-20", 0.074), ("2024-10-21", 0.063), ("2024-10-31", 0.063), ("2024-11-02", 0.055),
    ("2024-11-04", 0.055), ("2024-11-07", 0.044), ("2024-11-08", -0.014), ("2024-11-11", -0.014),
    ("2024-11-13", 0.002), ("2024-11-14", 0.023), ("2024-11-16", 0.026), ("2024-11-21", -0.006),
    ("2024-11-23", -0.014), ("2024-11-24", -0.025), ("2024-11-29", -0.025), ("2024-11-30", -0.046),
    ("2024-12-11", -0.046), ("2024-12-12", -0.041), ("2024-12-18", -0.044), ("2024-12-19", -0.049),
    ("2024-12-21", -0.025), ("2024-12-27", -0.025), ("2024-12-28", -0.004), ("2024-12-30", -0.041),
    ("2025-01-01", -0.100),
]

names = ["LA CARB #2 Basis", "USGC ULSD", "Group 3 ULSD", "NYH Barge ULSD",
         "Chicago BCX ULSD Basis", "SF Spot CARB#2"]
all_series = [la_carb, usgc, group3, nyh, chicago, sf_spot]
colors = ["#FF0000", "#ED7D31", "#A5A5A5", "#FFC000", "#4472C4", "#70AD47"]
widths = [5.0, 3.8, 5.0, 3.8, 5.0, 5.0]
y_ticks = [-0.6, -0.4, -0.2, 0.0, 0.2, 0.4, 0.6, 0.8, 1.0]

text_color = "#595959"

fig = plt.figure(figsize=(19.2, 13.93), dpi=200)
ax = fig.add_axes([0.0656, 0.0944, 0.9102, 0.8906])

lines = []
for name, data, c, w in zip(names, all_series, colors, widths):
    df = pd.DataFrame(data, columns=["date", "value"])
    df["date"] = pd.to_datetime(df["date"])
    ln, = ax.plot(df["date"], df["value"], color=c, lw=w, label=name,
                  solid_joinstyle="round", solid_capstyle="round")
    lines.append(ln)

ax.set_xlim(pd.Timestamp("2023-06-01"), pd.Timestamp("2025-01-01"))
ax.set_ylim(-0.6, 1.0)
ax.set_yticks(y_ticks)
ax.yaxis.set_major_formatter(FuncFormatter(
    lambda v, p: f"-${abs(v):.2f}" if v < -1e-9 else f"${v:.2f}"))
ax.xaxis.set_major_locator(mdates.MonthLocator())
ax.xaxis.set_major_formatter(mdates.DateFormatter("%b-%y"))

ax.grid(axis="y", color="#D9D9D9", lw=1.3)
ax.set_axisbelow(True)
for s in ax.spines.values():
    s.set_visible(False)
ax.tick_params(axis="both", length=0, labelsize=22, labelcolor=text_color)
ax.tick_params(axis="y", pad=24)
ax.tick_params(axis="x", pad=6)
for lab in ax.get_xticklabels():
    lab.set_rotation(45)
    lab.set_ha("right")
    lab.set_va("top")
    lab.set_rotation_mode("anchor")

# legend is laid out row by row in the original: 3 rows x 2 columns
order = [0, 2, 4, 1, 3, 5]
leg = ax.legend([lines[i] for i in order], [names[i] for i in order],
                ncol=2, loc="center left", bbox_to_anchor=(0.5185, 0.8126),
                bbox_transform=fig.transFigure, frameon=False, fontsize=24.2,
                handlelength=1.72, handletextpad=0.18, columnspacing=0.7,
                labelspacing=0.86, borderpad=0, borderaxespad=0)
for t in leg.get_texts():
    t.set_color(text_color)

fig.text(0.7557, 0.9402, "Prompt Diesel Basis", ha="center", va="baseline",
         fontsize=42, color=text_color)
fig.text(0.7557, 0.9016, "$/Gal vs  Prompt NYMEX HO", ha="center", va="baseline",
         fontsize=25, color=text_color)

fig.patches.append(Rectangle((0, 0), 1, 1, transform=fig.transFigure, fill=False,
                             edgecolor="#BFBFBF", lw=3))

fig.savefig("out.png", dpi=200)
